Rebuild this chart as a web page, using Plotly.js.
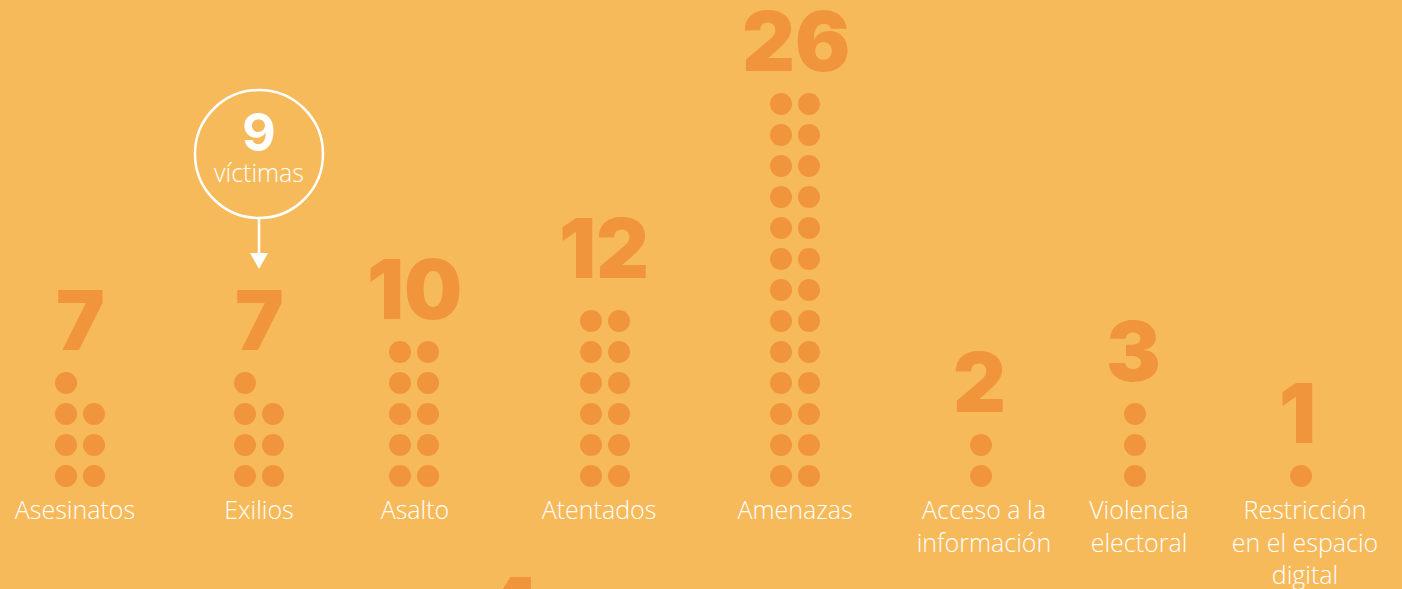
<!DOCTYPE html>
<html>
<head>
<meta charset="utf-8">
<script src="https://cdn.plot.ly/plotly-3.0.1.min.js"></script>
<style>
  html, body { margin: 0; padding: 0; background: #F7BA5B; }
  #chart { width: 1402px; height: 589px; }
</style>
</head>
<body>
<div id="chart"></div>
<script>
// ---------- DATA ----------
const categories = [
  'Asesinatos',
  'Exilios',
  'Asalto',
  'Atentados',
  'Amenazas',
  'Acceso a la<br>información',
  'Violencia<br>electoral',
  'Restricción<br>en el espacio<br>digital'
];
const values = [7, 7, 10, 12, 26, 2, 3, 1];
const calloutCategory = 'Exilios';
const calloutValue = 9;
const calloutUnit = 'víctimas';
const partialNextNumber = '4';

// ---------- LAYOUT CONSTANTS ----------
const W = 1402, H = 589;
const BG = '#F7BA5B';
const DOT = '#F1953C';
const WHITE = '#FFFFFF';
const colX   = [80, 259, 414, 605, 795, 981, 1135, 1301];  // dot column centers (px)
const labelX = [75, 259, 415, 599, 795, 984, 1139, 1305];  // label centers (px)
const numX   = [80, 259, 414, 604, 796, 979, 1133, 1297];  // number centers (px)
const numShift = [0, 0, 0, 10, 0, 0, 0, 0];                // extra lift (px)
const pairHalf = 14;      // half distance between paired dots
const rowPx = 31;         // px per row unit
const baseRowPx = 476;    // pixel y of bottom row
const marginB = 96;
const plotBottomPx = H - marginB;
const yRange = [(baseRowPx - plotBottomPx) / rowPx, baseRowPx / rowPx];
const py = p => (baseRowPx - p) / rowPx;          // pixel y -> y data units
const ppy = p => (plotBottomPx - p) / plotBottomPx; // pixel y -> paper units

const NUM_FONT = { family: 'Inter, "Open Sans", sans-serif', size: 82, color: DOT, weight: 900 };
const LABEL_FONT = { family: '"Open Sans", sans-serif', size: 25, color: WHITE, weight: 300 };

// ---------- DOTS ----------
const dx = [], dy = [];
const topRow = [];
values.forEach((n, i) => {
  const two = n > 3;
  let top = 0;
  for (let k = 0; k < n; k++) {
    let row, x;
    if (two) {
      row = Math.floor(k / 2);
      x = colX[i] + (k % 2 === 0 ? -pairHalf : pairHalf);
    } else {
      row = k;
      x = colX[i];
    }
    dx.push(x); dy.push(row);
    top = Math.max(top, row);
  }
  topRow.push(top);
});

const traces = [{
  type: 'scatter',
  mode: 'markers',
  x: dx, y: dy,
  marker: { size: 22, color: DOT, line: { width: 0 } },
  hoverinfo: 'skip',
  cliponaxis: false
}];

// ---------- ANNOTATIONS ----------
const annotations = values.map((v, i) => ({
  x: numX[i], y: topRow[i], xref: 'x', yref: 'y',
  text: String(v), showarrow: false,
  xanchor: 'center', yanchor: 'bottom', yshift: 11 + numShift[i],
  font: NUM_FONT
}));

const ci = categories.indexOf(calloutCategory);
const cx = colX[ci];
const cTopPx = 90, cBotPx = 218;
annotations.push({
  x: cx, y: py(132), xref: 'x', yref: 'y', text: '<b>' + calloutValue + '</b>',
  showarrow: false, xanchor: 'center', yanchor: 'middle',
  font: { family: 'Inter, "Open Sans", sans-serif', size: 52, color: WHITE, weight: 800 }
});
annotations.push({
  x: cx, y: py(172), xref: 'x', yref: 'y', text: calloutUnit,
  showarrow: false, xanchor: 'center', yanchor: 'middle',
  font: { family: '"Open Sans", sans-serif', size: 25, color: WHITE, weight: 300 }
});
annotations.push({
  x: 512, y: ppy(556), xref: 'x', yref: 'paper', text: partialNextNumber,
  showarrow: false, xanchor: 'center', yanchor: 'top',
  font: NUM_FONT
});

const shapes = [
  { type: 'circle', xref: 'x', yref: 'y',
    x0: cx - 64, x1: cx + 64, y0: py(cBotPx), y1: py(cTopPx),
    line: { color: WHITE, width: 2.5 }, fillcolor: 'rgba(0,0,0,0)' },
  { type: 'line', xref: 'x', yref: 'y',
    x0: cx, x1: cx, y0: py(cBotPx), y1: py(256),
    line: { color: WHITE, width: 2.5 } },
  { type: 'path', xref: 'x', yref: 'y',
    path: `M ${cx - 9} ${py(253)} L ${cx + 9} ${py(253)} L ${cx} ${py(269)} Z`,
    fillcolor: WHITE, line: { width: 0 } }
];

const layout = {
  width: W, height: H,
  margin: { l: 0, r: 0, t: 0, b: marginB, pad: 0 },
  paper_bgcolor: BG, plot_bgcolor: BG,
  showlegend: false,
  xaxis: {
    range: [0, W], showgrid: false, zeroline: false, showline: false,
    tickmode: 'array', tickvals: labelX, ticktext: categories,
    ticks: '', tickangle: 0, tickfont: LABEL_FONT, fixedrange: true
  },
  yaxis: {
    range: yRange, visible: false, showgrid: false, zeroline: false, fixedrange: true
  },
  annotations: annotations,
  shapes: shapes
};

Plotly.newPlot('chart', traces, layout, { displayModeBar: false, staticPlot: true });
</script>
</body>
</html>
